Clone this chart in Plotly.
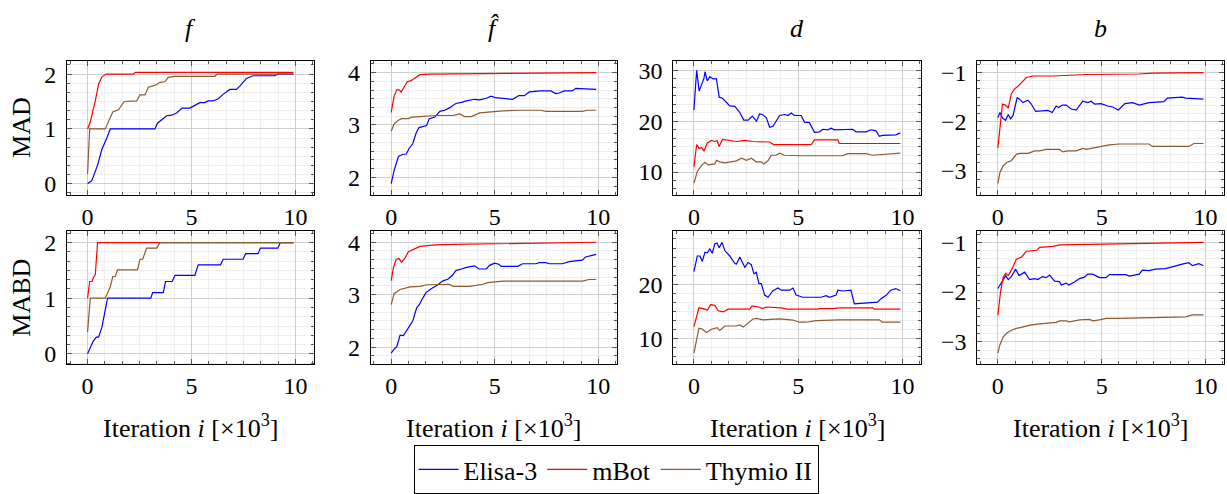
import plotly.graph_objects as go

# ---------------- data (iteration in thousands) ----------------
series_names = ["Elisa-3", "mBot", "Thymio II"]
col_titles = ["<i>f</i>", "<i>f\u0302</i>", "<i>d</i>", "<i>b</i>"]
row_titles = ["MAD", "MABD"]

# MAD, f
mad_f_elisa_x = [0, 0.21, 0.48, 0.69, 0.93, 1.09, 3.24, 3.35, 3.8, 4.04, 4.28, 4.55, 4.92, 5.08, 5.4, 5.64, 5.8, 6.04, 6.28, 6.52, 6.84, 7.16, 7.32, 7.64, 7.96, 8.99, 9.15, 9.9]
mad_f_elisa_y = [0, 0.06, 0.34, 0.63, 0.84, 1.0, 1.0, 1.1, 1.24, 1.25, 1.29, 1.38, 1.38, 1.41, 1.48, 1.48, 1.51, 1.51, 1.55, 1.63, 1.72, 1.72, 1.78, 1.92, 1.97, 1.97, 2.0, 2.0]
mad_f_mbot_x = [0, 0.13, 0.37, 0.53, 0.69, 0.9, 2.2, 2.3, 9.9]
mad_f_mbot_y = [1, 1.13, 1.51, 1.82, 1.95, 2.0, 2.0, 2.03, 2.03]
mad_f_thymio_x = [0, 0.1, 0.85, 1.21, 1.49, 1.76, 2.36, 2.52, 2.76, 2.92, 3.19, 3.32, 3.48, 3.72, 3.88, 4.2, 6.12, 6.23, 9.9]
mad_f_thymio_y = [0.18, 1.0, 1.0, 1.31, 1.35, 1.5, 1.51, 1.62, 1.62, 1.76, 1.79, 1.81, 1.85, 1.86, 1.94, 1.96, 1.96, 2.0, 2.0]

# MAD, f-hat
mad_fh_elisa_x = [0, 0.14, 0.35, 0.56, 0.72, 0.88, 1.04, 1.2, 1.34, 1.55, 1.71, 1.84, 2.11, 2.35, 2.59, 2.83, 3.12, 3.39, 3.63, 4.03, 4.27, 4.59, 4.83, 5.04, 5.47, 5.87, 6.16, 6.43, 6.67, 7.23, 7.71, 7.95, 8.11, 8.35, 8.75, 8.91, 9.39, 9.9]
mad_fh_elisa_y = [1.88, 2.13, 2.4, 2.44, 2.44, 2.56, 2.64, 2.84, 2.95, 2.98, 2.99, 3.12, 3.15, 3.26, 3.28, 3.33, 3.41, 3.43, 3.46, 3.49, 3.48, 3.51, 3.55, 3.52, 3.51, 3.49, 3.56, 3.56, 3.63, 3.65, 3.65, 3.6, 3.61, 3.65, 3.65, 3.7, 3.69, 3.68]
mad_fh_mbot_x = [0, 0.14, 0.27, 0.38, 0.48, 0.67, 0.78, 0.94, 1.15, 1.39, 1.87, 6.19, 9.9]
mad_fh_mbot_y = [3.24, 3.55, 3.67, 3.67, 3.63, 3.77, 3.83, 3.84, 3.9, 3.96, 3.97, 3.98, 4.0]
mad_fh_thymio_x = [0, 0.14, 0.35, 0.51, 0.83, 0.99, 1.39, 2.19, 2.99, 3.31, 3.55, 3.87, 4.27, 4.75, 5.39, 6.19, 7.23, 7.47, 9.23, 9.47, 9.9]
mad_fh_thymio_y = [2.88, 3.02, 3.09, 3.12, 3.12, 3.15, 3.16, 3.18, 3.18, 3.21, 3.16, 3.16, 3.23, 3.25, 3.27, 3.28, 3.28, 3.26, 3.26, 3.28, 3.28]

# MAD, d
mad_d_elisa_x = [0, 0.13, 0.25, 0.37, 0.48, 0.53, 0.64, 0.76, 0.92, 1.08, 1.21, 1.37, 1.53, 1.72, 1.96, 2.2, 2.39, 2.6, 2.8, 3.0, 3.15, 3.28, 3.47, 3.63, 3.79, 4.11, 4.35, 4.51, 4.67, 4.82, 5.14, 5.3, 5.54, 5.78, 6.02, 6.18, 6.42, 6.58, 6.74, 7.61, 7.77, 8.25, 8.49, 8.73, 8.89, 9.04, 9.68, 9.9]
mad_d_elisa_y = [22.2, 30.0, 25.9, 27.1, 28.4, 29.7, 27.9, 28.7, 28.3, 28.3, 24.7, 24.5, 23.8, 23.0, 22.9, 21.7, 20.2, 20.2, 21.0, 20.0, 21.4, 21.3, 20.7, 18.8, 19.0, 21.1, 21.3, 21.1, 21.6, 21.1, 21.1, 19.8, 19.7, 17.8, 17.9, 18.4, 18.3, 18.6, 18.3, 18.4, 17.9, 17.9, 18.3, 18.1, 17.0, 17.2, 17.3, 17.7]
mad_d_mbot_x = [0, 0.13, 0.25, 0.37, 0.48, 0.64, 0.84, 1.0, 1.11, 1.21, 1.37, 1.72, 2.04, 2.44, 2.83, 3.63, 3.82, 5.62, 5.78, 6.9, 6.97, 9.9]
mad_d_mbot_y = [11.0, 15.4, 14.6, 14.8, 14.1, 15.7, 16.2, 16.0, 16.2, 15.0, 16.4, 16.2, 16.0, 16.2, 16.0, 15.9, 15.4, 15.4, 16.3, 16.3, 15.6, 15.6]
mad_d_thymio_x = [0, 0.16, 0.37, 0.53, 0.68, 1.0, 1.08, 1.24, 1.48, 1.72, 2.04, 2.28, 2.52, 2.75, 2.99, 3.23, 3.34, 3.55, 3.71, 3.95, 4.11, 4.35, 5.06, 7.13, 7.37, 8.25, 8.57, 9.9]
mad_d_thymio_y = [7.8, 10.1, 11.3, 11.9, 11.4, 11.6, 12.3, 12.0, 11.8, 12.0, 12.2, 12.7, 12.3, 12.7, 12.0, 12.0, 11.6, 12.2, 13.3, 13.3, 13.7, 13.3, 13.2, 13.2, 13.6, 13.6, 13.3, 13.7]

# MAD, b
mad_b_elisa_x = [0, 0.1, 0.22, 0.37, 0.5, 0.61, 0.73, 0.93, 1.05, 1.21, 1.45, 1.61, 1.82, 2.41, 2.62, 2.81, 2.94, 3.1, 3.29, 3.53, 3.77, 4.09, 4.33, 4.49, 4.65, 4.97, 5.29, 5.53, 5.8, 6.12, 6.49, 6.81, 7.28, 8.0, 8.16, 8.56, 8.88, 9.04, 9.9]
mad_b_elisa_y = [-1.92, -1.81, -1.92, -1.97, -1.85, -1.94, -1.87, -1.51, -1.54, -1.61, -1.56, -1.64, -1.79, -1.77, -1.81, -1.68, -1.71, -1.66, -1.66, -1.74, -1.76, -1.58, -1.61, -1.58, -1.64, -1.63, -1.68, -1.7, -1.76, -1.63, -1.61, -1.66, -1.61, -1.59, -1.52, -1.51, -1.5, -1.52, -1.54]
mad_b_mbot_x = [0, 0.1, 0.22, 0.37, 0.5, 0.65, 0.81, 0.97, 1.13, 1.37, 1.69, 2.65, 4.25, 6.8, 7.44, 9.9]
mad_b_mbot_y = [-2.53, -2.13, -1.64, -1.66, -1.72, -1.43, -1.33, -1.28, -1.2, -1.1, -1.07, -1.07, -1.04, -1.03, -1.01, -1.0]
mad_b_thymio_x = [0, 0.1, 0.26, 0.45, 0.65, 0.89, 1.05, 1.45, 1.77, 2.01, 2.33, 2.97, 3.13, 3.37, 3.77, 4.09, 4.25, 4.49, 4.89, 5.37, 5.85, 7.28, 7.44, 9.2, 9.44, 9.9]
mad_b_thymio_y = [-3.25, -3.03, -2.89, -2.82, -2.79, -2.66, -2.64, -2.64, -2.59, -2.59, -2.56, -2.56, -2.61, -2.59, -2.59, -2.54, -2.56, -2.54, -2.5, -2.47, -2.45, -2.45, -2.5, -2.5, -2.44, -2.44]

# MABD, f
mabd_f_elisa_x = [0, 0.26, 0.42, 0.53, 0.69, 0.89, 0.96, 3.04, 3.13, 3.64, 3.75, 4.07, 4.2, 5.16, 5.32, 6.39, 6.52, 7.48, 7.6, 8.2, 8.31, 9.15, 9.27, 9.9]
mabd_f_elisa_y = [0, 0.22, 0.3, 0.3, 0.48, 0.88, 1.0, 1.0, 1.1, 1.1, 1.3, 1.3, 1.41, 1.41, 1.6, 1.6, 1.7, 1.7, 1.8, 1.8, 1.9, 1.9, 2.0, 2.0]
mabd_f_mbot_x = [0, 0.1, 0.21, 0.29, 0.37, 0.48, 9.9]
mabd_f_mbot_y = [1.0, 1.3, 1.3, 1.38, 1.42, 2.0, 2.0]
mabd_f_thymio_x = [0, 0.13, 0.85, 1.09, 1.21, 1.33, 1.44, 2.4, 2.52, 2.65, 2.84, 3.32, 3.48, 9.9]
mabd_f_thymio_y = [0.39, 1.0, 1.0, 1.2, 1.39, 1.39, 1.51, 1.51, 1.7, 1.7, 1.9, 1.9, 2.0, 2.0]

# MABD, f-hat
mabd_fh_elisa_x = [0, 0.11, 0.27, 0.43, 0.59, 0.78, 1.04, 1.23, 1.36, 1.47, 1.68, 1.95, 2.22, 2.48, 2.75, 2.96, 3.12, 3.39, 3.63, 4.03, 4.24, 4.59, 4.75, 4.99, 5.2, 5.31, 6.11, 6.35, 6.99, 7.15, 7.47, 7.63, 8.27, 8.59, 8.99, 9.23, 9.39, 9.9]
mabd_fh_elisa_y = [1.89, 1.95, 2.01, 2.23, 2.22, 2.35, 2.5, 2.75, 2.81, 2.9, 3.04, 3.12, 3.18, 3.26, 3.3, 3.37, 3.46, 3.49, 3.52, 3.55, 3.49, 3.49, 3.56, 3.6, 3.58, 3.54, 3.54, 3.59, 3.59, 3.61, 3.61, 3.59, 3.59, 3.63, 3.64, 3.66, 3.72, 3.77]
mabd_fh_mbot_x = [0, 0.11, 0.24, 0.37, 0.51, 0.67, 0.83, 1.07, 1.39, 1.87, 2.11, 2.99, 9.9]
mabd_fh_mbot_y = [3.27, 3.52, 3.67, 3.69, 3.62, 3.7, 3.82, 3.86, 3.92, 3.94, 3.95, 3.96, 4.0]
mabd_fh_thymio_x = [0, 0.14, 0.43, 0.91, 1.39, 1.71, 2.83, 2.99, 3.79, 4.43, 4.67, 5.39, 7.79, 9.23, 9.55, 9.9]
mabd_fh_thymio_y = [2.81, 3.02, 3.1, 3.15, 3.16, 3.19, 3.2, 3.16, 3.16, 3.2, 3.23, 3.26, 3.26, 3.26, 3.29, 3.29]

# MABD, d
mabd_d_elisa_x = [0, 0.16, 0.29, 0.4, 0.53, 0.64, 0.76, 0.88, 1.0, 1.11, 1.21, 1.35, 1.48, 1.72, 1.96, 2.04, 2.2, 2.44, 2.6, 2.75, 2.88, 2.99, 3.12, 3.23, 3.39, 3.55, 3.79, 4.03, 4.19, 4.59, 4.75, 4.9, 5.22, 6.1, 6.34, 6.5, 6.82, 6.9, 7.13, 7.53, 7.69, 8.25, 8.81, 8.96, 9.2, 9.44, 9.68, 9.9]
mabd_d_elisa_y = [22.3, 25.2, 25.2, 24.2, 25.9, 25.8, 26.5, 25.7, 27.4, 27.6, 26.7, 27.7, 26.2, 25.2, 23.8, 23.7, 25.0, 23.1, 24.0, 23.6, 21.9, 22.2, 20.1, 20.1, 18.0, 17.6, 18.8, 19.3, 18.9, 18.9, 19.3, 18.0, 17.6, 17.6, 17.9, 17.6, 18.0, 18.9, 18.75, 18.9, 16.4, 16.5, 16.7, 17.3, 17.9, 18.9, 19.2, 18.8]
mabd_d_mbot_x = [0, 0.24, 0.53, 0.64, 0.8, 1.0, 1.16, 1.4, 1.64, 2.68, 2.79, 3.12, 3.28, 3.47, 4.19, 4.43, 5.94, 6.02, 6.66, 6.97, 8.57, 8.65, 9.9]
mabd_d_mbot_y = [12.2, 15.65, 15.4, 15.2, 16.25, 16.1, 15.1, 14.9, 15.4, 15.4, 16.0, 15.8, 15.5, 15.8, 15.65, 15.4, 15.4, 15.5, 15.5, 15.65, 15.65, 15.4, 15.4]
mabd_d_thymio_x = [0, 0.24, 0.37, 0.61, 0.84, 1.11, 1.24, 1.48, 2.04, 2.2, 2.36, 2.6, 2.83, 2.99, 3.31, 4.11, 4.75, 5.06, 5.38, 5.86, 6.97, 8.89, 9.04, 9.9]
mabd_d_thymio_y = [7.3, 11.9, 11.8, 11.1, 11.7, 12.0, 11.5, 12.3, 12.3, 12.5, 12.1, 12.8, 13.6, 13.7, 13.45, 13.6, 13.4, 13.0, 13.0, 13.3, 13.45, 13.45, 13.0, 13.0]

# MABD, b
mabd_b_elisa_x = [0, 0.18, 0.38, 0.5, 0.65, 0.86, 1.02, 1.29, 1.53, 1.77, 1.93, 2.14, 2.33, 2.49, 2.73, 2.97, 3.05, 3.29, 3.42, 3.69, 3.93, 4.17, 4.33, 4.57, 4.89, 5.21, 5.37, 6.17, 6.33, 6.81, 6.96, 7.28, 7.6, 8.08, 8.4, 8.88, 9.2, 9.36, 9.68, 9.9]
mabd_b_elisa_y = [-1.93, -1.8, -1.67, -1.75, -1.69, -1.54, -1.67, -1.6, -1.75, -1.73, -1.75, -1.69, -1.71, -1.66, -1.78, -1.79, -1.86, -1.82, -1.86, -1.8, -1.73, -1.7, -1.64, -1.64, -1.71, -1.71, -1.65, -1.65, -1.68, -1.64, -1.56, -1.57, -1.54, -1.53, -1.49, -1.44, -1.41, -1.47, -1.43, -1.47]
mabd_b_mbot_x = [0, 0.13, 0.26, 0.38, 0.5, 0.65, 0.89, 1.13, 1.37, 1.88, 2.01, 2.65, 2.97, 5.85, 8.24, 9.9]
mabd_b_mbot_y = [-2.47, -1.99, -1.7, -1.62, -1.67, -1.56, -1.34, -1.3, -1.18, -1.16, -1.1, -1.08, -1.05, -1.03, -1.01, -1.0]
mabd_b_thymio_x = [0, 0.1, 0.26, 0.45, 0.65, 0.89, 1.13, 1.37, 1.61, 2.01, 2.33, 2.81, 2.97, 3.29, 3.45, 3.93, 4.41, 4.57, 4.89, 5.21, 5.85, 7.44, 9.04, 9.36, 9.9]
mabd_b_thymio_y = [-3.23, -3.06, -2.9, -2.82, -2.77, -2.73, -2.71, -2.68, -2.66, -2.64, -2.63, -2.61, -2.58, -2.58, -2.6, -2.56, -2.55, -2.58, -2.56, -2.53, -2.53, -2.51, -2.5, -2.46, -2.46]

# ---------------- panel table built from the arrays ----------------
panels = [
    [(mad_f_elisa_x, mad_f_elisa_y), (mad_f_mbot_x, mad_f_mbot_y), (mad_f_thymio_x, mad_f_thymio_y)],
    [(mad_fh_elisa_x, mad_fh_elisa_y), (mad_fh_mbot_x, mad_fh_mbot_y), (mad_fh_thymio_x, mad_fh_thymio_y)],
    [(mad_d_elisa_x, mad_d_elisa_y), (mad_d_mbot_x, mad_d_mbot_y), (mad_d_thymio_x, mad_d_thymio_y)],
    [(mad_b_elisa_x, mad_b_elisa_y), (mad_b_mbot_x, mad_b_mbot_y), (mad_b_thymio_x, mad_b_thymio_y)],
    [(mabd_f_elisa_x, mabd_f_elisa_y), (mabd_f_mbot_x, mabd_f_mbot_y), (mabd_f_thymio_x, mabd_f_thymio_y)],
    [(mabd_fh_elisa_x, mabd_fh_elisa_y), (mabd_fh_mbot_x, mabd_fh_mbot_y), (mabd_fh_thymio_x, mabd_fh_thymio_y)],
    [(mabd_d_elisa_x, mabd_d_elisa_y), (mabd_d_mbot_x, mabd_d_mbot_y), (mabd_d_thymio_x, mabd_d_thymio_y)],
    [(mabd_b_elisa_x, mabd_b_elisa_y), (mabd_b_mbot_x, mabd_b_mbot_y), (mabd_b_thymio_x, mabd_b_thymio_y)],
]

# ---------------- styling ----------------
W, H = 1227, 494
colors = ["#0000ff", "#ff0000", "#8c5a32"]
FONT = "Liberation Serif"
col_px = [(67, 314), (370.7, 616.7), (673.3, 921), (977.3, 1224)]
row_px = [(59, 196.7), (234, 371.7)]
y_ranges = [[-0.2, 2.235], [1.667, 4.217], [5.54, 31.77], [-3.48, -0.77],
            [-0.19, 2.21], [1.673, 4.216], [5.23, 29.82], [-3.456, -0.77]]
y_dticks = [1, 1, 10, 1, 1, 1, 10, 1]
x_range = [-0.99, 10.89]

fig = go.Figure()
layout = {}
for p, series in enumerate(panels):
    r, c = divmod(p, 4)
    k = p + 1
    xa = "x" if k == 1 else f"x{k}"
    ya = "y" if k == 1 else f"y{k}"
    for s, (xs, ys) in enumerate(series):
        fig.add_trace(go.Scatter(
            x=xs, y=ys, mode="lines", name=series_names[s],
            line=dict(color=colors[s], width=1.2),
            showlegend=(p == 0), legendgroup=series_names[s],
            xaxis=xa, yaxis=ya, hoverinfo="skip"))
    common = dict(
        showline=True, linecolor="black", linewidth=1, mirror="allticks",
        ticks="inside", ticklen=5, tickwidth=1, tickcolor="#555",
        showgrid=True, gridcolor="#cfcfcf", gridwidth=1, zeroline=False,
        tickfont=dict(family=FONT, size=24, color="black"),
    )
    x0, x1 = col_px[c]
    y0, y1 = row_px[r]
    layout["xaxis" if k == 1 else f"xaxis{k}"] = dict(
        common, domain=[x0 / W, x1 / W], anchor=ya, range=x_range,
        tick0=0, dtick=5, ticklabelstandoff=0,
        minor=dict(tick0=0, dtick=5 / 6, showgrid=True, gridcolor="#efefef",
                   ticks="inside", ticklen=3, tickcolor="#555"))
    dy = y_dticks[p]
    layout["yaxis" if k == 1 else f"yaxis{k}"] = dict(
        common, domain=[1 - y1 / H, 1 - y0 / H], anchor=xa, range=y_ranges[p],
        tick0=0, dtick=dy, ticklabelstandoff=5,
        minor=dict(tick0=0, dtick=dy / 6, showgrid=True, gridcolor="#efefef",
                   ticks="inside", ticklen=3, tickcolor="#555"))

annotations = []
for c in range(4):
    x0, x1 = col_px[c]
    xc = (x0 + x1) / 2 / W
    annotations.append(dict(text=col_titles[c], x=xc, y=1 - 25 / H, xref="paper", yref="paper",
                            showarrow=False, font=dict(family=FONT, size=26, color="black"),
                            xanchor="center", yanchor="middle"))
    annotations.append(dict(text="Iteration <i>i</i> [×10<sup>3</sup>]", x=xc, y=1 - 436 / H,
                            xref="paper", yref="paper", showarrow=False,
                            font=dict(family=FONT, size=26, color="black"),
                            xanchor="center", yanchor="middle"))
for r in range(2):
    y0, y1 = row_px[r]
    annotations.append(dict(text=row_titles[r], x=22 / W, y=1 - (y0 + y1) / 2 / H,
                            xref="paper", yref="paper", showarrow=False, textangle=-90,
                            font=dict(family=FONT, size=26, color="black"),
                            xanchor="center", yanchor="middle"))

fig.update_layout(
    **layout,
    annotations=annotations,
    width=W, height=H,
    margin=dict(l=0, r=0, t=0, b=0),
    paper_bgcolor="white", plot_bgcolor="white",
    showlegend=True,
    legend=dict(orientation="h", x=616 / W, xanchor="center", y=1 - 455 / H, yanchor="top",
                bordercolor="black", borderwidth=1, bgcolor="white",
                font=dict(family=FONT, size=26, color="black"),
                itemwidth=40, tracegroupgap=0),
)

fig.write_html("out.html")
